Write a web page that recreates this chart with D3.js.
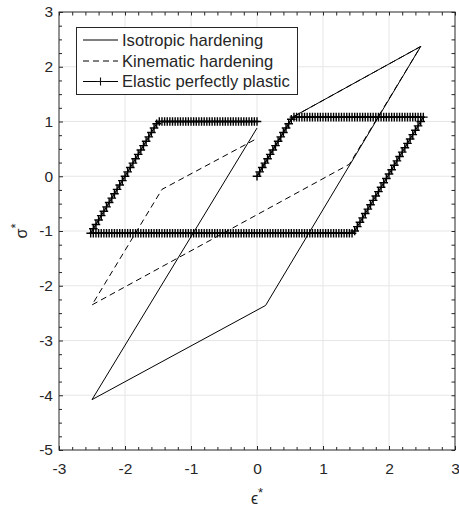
<!DOCTYPE html>
<html>
<head>
<meta charset="utf-8">
<script src="https://cdn.jsdelivr.net/npm/d3@7"></script>
<style>
body { margin: 0; background: #fff; }
text { font-family: "Liberation Sans", Arial, Helvetica, sans-serif; fill: #262626; }
</style>
</head>
<body>
<svg id="chart" width="459" height="507"></svg>
<script>
var xTicks = [-3, -2, -1, 0, 1, 2, 3];
var yTicks = [-5, -4, -3, -2, -1, 0, 1, 2, 3];
var legendLabels = ["Isotropic hardening", "Kinematic hardening", "Elastic perfectly plastic"];

// isotropic hardening (solid)
var isoStrain = [0, 0.54, 2.48, 0.13, -2.5, 0];
var isoStress = [0, 1.08, 2.37, -2.36, -4.08, 0.88];

// kinematic hardening (dashed)
var kinStrain = [0, 0.54, 2.48, 1.40, -2.5, -1.44, 0];
var kinStress = [0, 1.08, 2.37, 0.22, -2.35, -0.24, 0.69];

// elastic perfectly plastic (every strain step carries a marker)
var eppStrain = [
	0, 0.04, 0.08, 0.12, 0.16, 0.2, 0.24, 0.28, 0.32, 0.36, 0.4, 0.44, 0.48, 0.52, 0.56,
	0.6, 0.64, 0.68, 0.72, 0.76, 0.8, 0.84, 0.88, 0.92, 0.96,
	1, 1.04, 1.08, 1.12, 1.16, 1.2, 1.24, 1.28, 1.32, 1.36,
	1.4, 1.44, 1.48, 1.52, 1.56, 1.6, 1.64, 1.68, 1.72, 1.76,
	1.8, 1.84, 1.88, 1.92, 1.96, 2, 2.04, 2.08, 2.12, 2.16,
	2.2, 2.24, 2.28, 2.32, 2.36, 2.4, 2.44, 2.48, 2.52,
	2.48, 2.44, 2.4, 2.36, 2.32, 2.28, 2.24, 2.2, 2.16, 2.12,
	2.08, 2.04, 2, 1.96, 1.92, 1.88, 1.84, 1.8, 1.76, 1.72,
	1.68, 1.64, 1.6, 1.56, 1.52, 1.48, 1.44,
	1.4, 1.36, 1.32, 1.28, 1.24, 1.2, 1.16, 1.12, 1.08, 1.04,
	1, 0.96, 0.92, 0.88, 0.84, 0.8, 0.76, 0.72, 0.68, 0.64,
	0.6, 0.56, 0.52, 0.48, 0.44, 0.4, 0.36, 0.32, 0.28, 0.24,
	0.2, 0.16, 0.12, 0.08, 0.04, 0, -0.04, -0.08, -0.12, -0.16,
	-0.2, -0.24, -0.28, -0.32, -0.36, -0.4, -0.44, -0.48, -0.52, -0.56,
	-0.6, -0.64, -0.68, -0.72, -0.76, -0.8, -0.84, -0.88, -0.92, -0.96,
	-1, -1.04, -1.08, -1.12, -1.16, -1.2, -1.24, -1.28, -1.32, -1.36,
	-1.4, -1.44, -1.48, -1.52, -1.56, -1.6, -1.64, -1.68, -1.72, -1.76,
	-1.8, -1.84, -1.88, -1.92, -1.96, -2, -2.04, -2.08, -2.12, -2.16,
	-2.2, -2.24, -2.28, -2.32, -2.36, -2.4, -2.44, -2.48, -2.52,
	-2.48, -2.44, -2.4, -2.36, -2.32, -2.28, -2.24, -2.2, -2.16, -2.12,
	-2.08, -2.04, -2, -1.96, -1.92, -1.88, -1.84, -1.8, -1.76, -1.72,
	-1.68, -1.64, -1.6, -1.56, -1.52, -1.48,
	-1.44, -1.4, -1.36, -1.32, -1.28, -1.24, -1.2, -1.16, -1.12, -1.08,
	-1.04, -1, -0.96, -0.92, -0.88, -0.84, -0.8, -0.76, -0.72, -0.68,
	-0.64, -0.6, -0.56, -0.52, -0.48, -0.44, -0.4, -0.36, -0.32, -0.28,
	-0.24, -0.2, -0.16, -0.12, -0.08, -0.04, 0
];
var eppStress = [
	0, 0.08, 0.16, 0.24, 0.32, 0.4, 0.48, 0.56, 0.64, 0.72, 0.8, 0.88, 0.96, 1.04, 1.08,
	1.08, 1.08, 1.08, 1.08, 1.08, 1.08, 1.08, 1.08, 1.08, 1.08,
	1.08, 1.08, 1.08, 1.08, 1.08, 1.08, 1.08, 1.08, 1.08, 1.08,
	1.08, 1.08, 1.08, 1.08, 1.08, 1.08, 1.08, 1.08, 1.08, 1.08,
	1.08, 1.08, 1.08, 1.08, 1.08, 1.08, 1.08, 1.08, 1.08, 1.08,
	1.08, 1.08, 1.08, 1.08, 1.08, 1.08, 1.08, 1.08, 1.08,
	1, 0.92, 0.84, 0.76, 0.68, 0.6, 0.52, 0.44, 0.36, 0.28,
	0.2, 0.12, 0.04, -0.04, -0.12, -0.2, -0.28, -0.36, -0.44, -0.52,
	-0.6, -0.68, -0.76, -0.84, -0.92, -1, -1.04,
	-1.04, -1.04, -1.04, -1.04, -1.04, -1.04, -1.04, -1.04, -1.04, -1.04,
	-1.04, -1.04, -1.04, -1.04, -1.04, -1.04, -1.04, -1.04, -1.04, -1.04,
	-1.04, -1.04, -1.04, -1.04, -1.04, -1.04, -1.04, -1.04, -1.04, -1.04,
	-1.04, -1.04, -1.04, -1.04, -1.04, -1.04, -1.04, -1.04, -1.04, -1.04,
	-1.04, -1.04, -1.04, -1.04, -1.04, -1.04, -1.04, -1.04, -1.04, -1.04,
	-1.04, -1.04, -1.04, -1.04, -1.04, -1.04, -1.04, -1.04, -1.04, -1.04,
	-1.04, -1.04, -1.04, -1.04, -1.04, -1.04, -1.04, -1.04, -1.04, -1.04,
	-1.04, -1.04, -1.04, -1.04, -1.04, -1.04, -1.04, -1.04, -1.04, -1.04,
	-1.04, -1.04, -1.04, -1.04, -1.04, -1.04, -1.04, -1.04, -1.04, -1.04,
	-1.04, -1.04, -1.04, -1.04, -1.04, -1.04, -1.04, -1.04, -1.04,
	-0.96, -0.88, -0.8, -0.72, -0.64, -0.56, -0.48, -0.4, -0.32, -0.24,
	-0.16, -0.08, 0, 0.08, 0.16, 0.24, 0.32, 0.4, 0.48, 0.56,
	0.64, 0.72, 0.8, 0.88, 0.96, 1,
	1, 1, 1, 1, 1, 1, 1, 1, 1, 1,
	1, 1, 1, 1, 1, 1, 1, 1, 1, 1,
	1, 1, 1, 1, 1, 1, 1, 1, 1, 1,
	1, 1, 1, 1, 1, 1, 1
];

var plotL = 59, plotR = 455, plotT = 12, plotB = 450;
var svg = d3.select("#chart");

var x = d3.scaleLinear().domain([-3, 3]).range([plotL, plotR]);
var y = d3.scaleLinear().domain([-5, 3]).range([plotB, plotT]);

var xMinor = d3.range(-3, 3.001, 0.2).filter(function(v){ return Math.abs(v - Math.round(v)) > 1e-6; });
var yMinor = d3.range(-5, 3.001, 0.25).filter(function(v){ return Math.abs(v - Math.round(v)) > 1e-6; });
var fmt = function(d){ return String(d); };

// Grid
var grid = svg.append("g").attr("stroke", "#e6e6e6").attr("stroke-width", 1);
grid.selectAll("line.gx").data(xTicks.slice(1, -1)).enter().append("line")
	.attr("x1", function(d){ return x(d); }).attr("x2", function(d){ return x(d); })
	.attr("y1", plotT).attr("y2", plotB);
grid.selectAll("line.gy").data(yTicks.slice(1, -1)).enter().append("line")
	.attr("y1", function(d){ return y(d); }).attr("y2", function(d){ return y(d); })
	.attr("x1", plotL).attr("x2", plotR);

// Lines
var zip = function(xs, ys){ return xs.map(function(v, i){ return [v, ys[i]]; }); };
var line = d3.line().x(function(d){ return x(d[0]); }).y(function(d){ return y(d[1]); });
var plus = function(px, py, a){ return "M" + (px - a) + "," + py + "h" + (2 * a) + "M" + px + "," + (py - a) + "v" + (2 * a); };

var eppData = zip(eppStrain, eppStress);
svg.append("path").attr("d", line(eppData))
	.attr("fill", "none").attr("stroke", "#000").attr("stroke-width", 1.2);
svg.append("g").selectAll("path").data(eppData).enter().append("path")
	.attr("d", function(d){ return plus(x(d[0]), y(d[1]), 4.3); })
	.attr("stroke", "#000").attr("stroke-width", 1.4);

svg.append("path").attr("d", line(zip(kinStrain, kinStress)))
	.attr("fill", "none").attr("stroke", "#000").attr("stroke-width", 1)
	.attr("stroke-dasharray", "6,4");
svg.append("path").attr("d", line(zip(isoStrain, isoStress)))
	.attr("fill", "none").attr("stroke", "#000").attr("stroke-width", 1);

// Axes (ticks inward on all four sides)
var axisColor = "#262626";
var style = function(g){
	g.select(".domain").remove();
	g.selectAll("line").attr("stroke", axisColor);
	g.selectAll("text").style("font-size", "15.5px").attr("fill", axisColor);
};
svg.append("g").attr("transform", "translate(0," + plotB + ")")
	.call(d3.axisBottom(x).tickValues(xTicks).tickSize(-4).tickPadding(13).tickFormat(fmt)).call(style);
svg.append("g").attr("transform", "translate(0," + plotB + ")")
	.call(d3.axisBottom(x).tickValues(xMinor).tickSize(-3).tickFormat("")).call(style);
svg.append("g").attr("transform", "translate(0," + plotT + ")")
	.call(d3.axisTop(x).tickValues(xTicks.concat(xMinor)).tickSize(-3.5).tickFormat("")).call(style);
svg.append("g").attr("transform", "translate(" + plotL + ",0)")
	.call(d3.axisLeft(y).tickValues(yTicks).tickSize(-4).tickPadding(6).tickFormat(fmt)).call(style);
svg.append("g").attr("transform", "translate(" + plotL + ",0)")
	.call(d3.axisLeft(y).tickValues(yMinor).tickSize(-3).tickFormat("")).call(style);
svg.append("g").attr("transform", "translate(" + plotR + ",0)")
	.call(d3.axisRight(y).tickValues(yTicks.concat(yMinor)).tickSize(-3.5).tickFormat("")).call(style);

svg.append("rect").attr("x", plotL).attr("y", plotT)
	.attr("width", plotR - plotL).attr("height", plotB - plotT)
	.attr("fill", "none").attr("stroke", axisColor).attr("stroke-width", 1);

// Axis labels
var xl = svg.append("text").attr("x", 257).attr("y", 504).attr("text-anchor", "middle")
	.style("font-size", "16px");
xl.append("tspan").text("ϵ");
xl.append("tspan").attr("dy", -7).style("font-size", "13px").text("*");

var yl = svg.append("text").attr("transform", "translate(27," + ((plotT + plotB) / 2) + ") rotate(-90)")
	.attr("text-anchor", "middle").style("font-size", "16px");
yl.append("tspan").text("σ");
yl.append("tspan").attr("dy", -7).style("font-size", "13px").text("*");

// Legend
var lg = svg.append("g");
lg.append("rect").attr("x", 76.5).attr("y", 27.5).attr("width", 221).attr("height", 67)
	.attr("fill", "#fff").attr("stroke", axisColor).attr("stroke-width", 1);
var rows = [40, 61, 81.5];
var dashes = [null, "6,4", null];
legendLabels.forEach(function(label, i){
	lg.append("line").attr("x1", 83).attr("x2", 118).attr("y1", rows[i]).attr("y2", rows[i])
		.attr("stroke", "#000").attr("stroke-width", 1).attr("stroke-dasharray", dashes[i]);
	lg.append("text").attr("x", 122).attr("y", rows[i]).attr("dy", "0.36em")
		.style("font-size", "16.6px").attr("fill", "#000").text(label);
});
lg.append("path").attr("d", plus(100.5, rows[2], 4))
	.attr("stroke", "#111").attr("stroke-width", 1.1);
</script>
</body>
</html>
